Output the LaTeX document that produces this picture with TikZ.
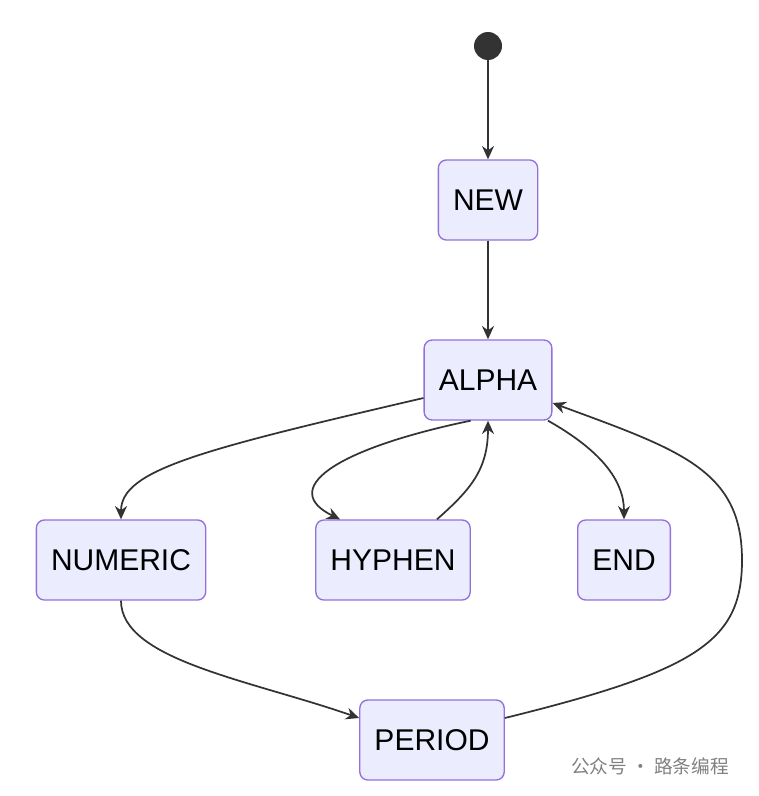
\documentclass[tikz,border=0pt]{standalone}
\usepackage{fontspec}
\setmainfont{Liberation Sans}
\newfontfamily\cjk{Noto Sans CJK SC}
\usetikzlibrary{arrows.meta}
\definecolor{stfill}{HTML}{ECECFF}
\definecolor{stline}{HTML}{9370DB}
\definecolor{edge}{HTML}{333333}
\tikzset{
  state/.style={draw=stline, fill=stfill, line width=1pt, rounded corners=6pt,
    minimum height=60pt, inner xsep=11pt, font=\fontsize{22.5}{26}\selectfont},
  trans/.style={draw=edge, line width=1.3pt, -{Stealth[length=10pt,width=9pt]}}
}
\begin{document}
\begin{tikzpicture}[x=0.75pt, y=-0.75pt]
\useasboundingbox (0,0) rectangle (759,796);

% STATES
\node[circle, fill=edge, minimum size=21pt, inner sep=0pt] (start) at (488,46) {};
\node[state] (new) at (488,200) {NEW};
\node[state] (alpha) at (488,380) {ALPHA};
\node[state] (numeric) at (121,560) {NUMERIC};
\node[state] (hyphen) at (393,560) {HYPHEN};
\node[state] (end) at (624,560) {END};
\node[state] (period) at (432,740) {PERIOD};
\node[font=\cjk\fontsize{14}{16}\selectfont, text=gray] (mark) at (650,766) {公众号 · 路条编程};

% TRANSITIONS
\draw[trans] (start) -- (new);
\draw[trans] (new) -- (alpha);
\draw[trans] (alpha.west |- 0,398) .. controls (200,450) and (121,470) .. (numeric.north);
\draw[trans] ([xshift=-13pt]alpha.south) .. controls (330,450) and (280,490) .. (hyphen.north -| 340,0);
\draw[trans] (hyphen.north -| 437,0) .. controls (470,490) and (488,470) .. (alpha.south);
\draw[trans] ([xshift=45pt]alpha.south) .. controls (600,450) and (624,480) .. (end.north);
\draw[trans] (numeric.south) .. controls (121,660) and (250,680) .. (period.west |- 0,718);
\draw[trans] (period.east |- 0,718) .. controls (700,670) and (742,640) .. (742,560)
  .. controls (742,470) and (680,450) .. (alpha.east |- 0,403);
\end{tikzpicture}
\end{document}
